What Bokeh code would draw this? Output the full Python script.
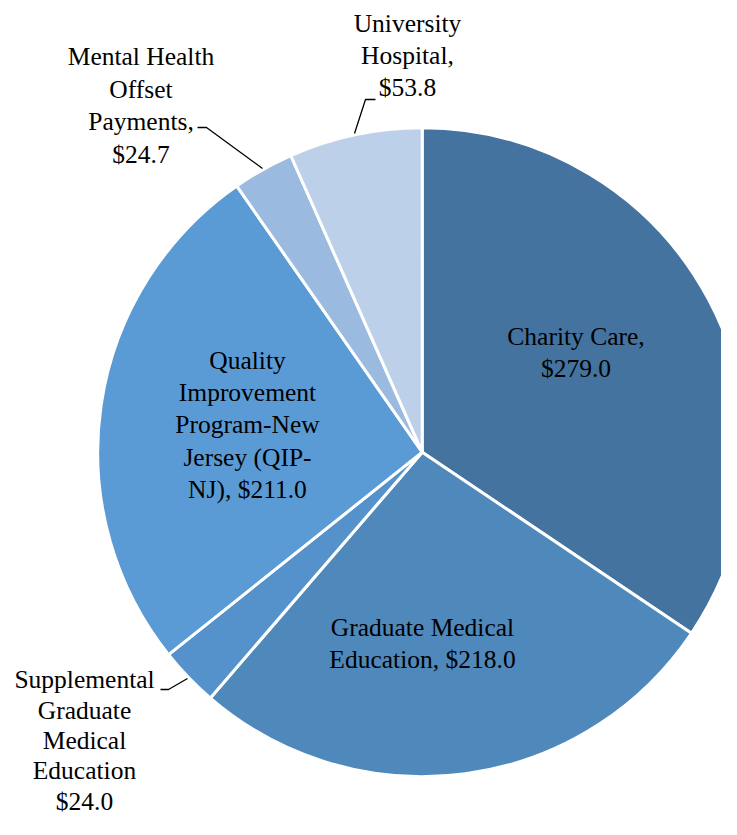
import math
from bokeh.plotting import figure
from bokeh.models import Range1d, ColumnDataSource
from bokeh.core.properties import value
from bokeh.embed import file_html
from bokeh.resources import INLINE

# ---------------- data ----------------
categories = [
    "Charity Care",
    "Graduate Medical Education",
    "Supplemental Graduate Medical Education",
    "Quality Improvement Program-New Jersey (QIP-NJ)",
    "Mental Health Offset Payments",
    "University Hospital",
]
amounts = [279.0, 218.0, 24.0, 211.0, 24.7, 53.8]
label_texts = [
    "Charity Care,\n$279.0",
    "Graduate Medical\nEducation, $218.0",
    "Supplemental\nGraduate\nMedical\nEducation\n$24.0",
    "Quality\nImprovement\nProgram-New\nJersey (QIP-\nNJ), $211.0",
    "Mental Health\nOffset\nPayments,\n$24.7",
    "University\nHospital,\n$53.8",
]
colors = ["#44739F", "#4F88BB", "#5592CB", "#5B9BD5", "#9BBAE0", "#BDD0EA"]

# ---------------- layout ----------------
W, H = 721, 819
IMG_H = 835
def Y(yp):
    return IMG_H - yp

cx, cy, R = 421.7, Y(451.7), 324.5

total = sum(amounts)
starts, ends = [], []
cum = 0.0
for a in amounts:
    starts.append(math.pi / 2 - 2 * math.pi * cum / total)
    cum += a
    ends.append(math.pi / 2 - 2 * math.pi * cum / total)

p = figure(width=W, height=H, output_backend="svg", toolbar_location=None,
           x_range=Range1d(0, W), y_range=Range1d(IMG_H - H, IMG_H),
           min_border=0, outline_line_color=None)
p.axis.visible = False
p.grid.visible = False
p.background_fill_color = "white"
p.border_fill_color = "white"

src = ColumnDataSource(dict(cat=categories, amt=amounts, start=starts, end=ends, color=colors))
p.wedge(x=cx, y=cy, radius=R, start_angle="start", end_angle="end", direction="clock",
        fill_color="color", line_color="white", line_width=3, source=src)

# label positions (block centres, image pixel coords)
lab_x = [575.5, 422.0, 84.0, 247.0, 140.5, 407.0]
lab_y = [352.0, 643.0, 740.0, 424.5, 105.0, 55.0]
lab_lh = [1.12, 1.12, 1.05, 1.12, 1.12, 1.12]
lsrc = ColumnDataSource(dict(x=lab_x, y=[Y(v) for v in lab_y], t=label_texts, lh=lab_lh))
p.text(x="x", y="y", text="t", source=lsrc, text_font=value("Liberation Serif"),
       text_font_size="25.5px", text_color="black", text_align="center",
       text_baseline="middle", text_line_height="lh")

# leader lines
leaders = [
    [(375, 99), (365, 99), (354, 133)],
    [(197, 127), (206, 127), (262, 168)],
    [(160, 689), (168, 689), (187, 678)],
]
p.multi_line(xs=[[pt[0] for pt in l] for l in leaders],
             ys=[[Y(pt[1]) for pt in l] for l in leaders],
             line_color="black", line_width=1.3)

open("out.html", "w").write(file_html(p, INLINE))
